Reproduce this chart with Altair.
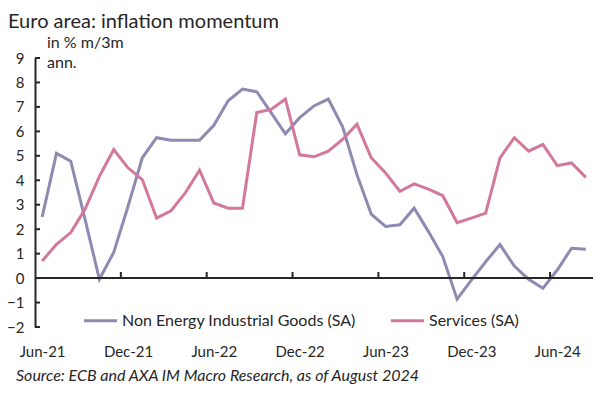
import altair as alt
import pandas as pd

months = ["Jun-21","Jul-21","Aug-21","Sep-21","Oct-21","Nov-21","Dec-21","Jan-22","Feb-22","Mar-22",
          "Apr-22","May-22","Jun-22","Jul-22","Aug-22","Sep-22","Oct-22","Nov-22","Dec-22","Jan-23",
          "Feb-23","Mar-23","Apr-23","May-23","Jun-23","Jul-23","Aug-23","Sep-23","Oct-23","Nov-23",
          "Dec-23","Jan-24","Feb-24","Mar-24","Apr-24","May-24","Jun-24","Jul-24","Aug-24"]

neig = [2.5, 5.1, 4.78, 2.4, -0.05, 1.05, 2.93, 4.92, 5.74, 5.64,
        5.64, 5.64, 6.25, 7.25, 7.73, 7.62, 6.77, 5.9, 6.56, 7.04,
        7.32, 6.19, 4.23, 2.62, 2.11, 2.18, 2.86, 1.9, 0.88, -0.86,
        -0.08, 0.67, 1.37, 0.49, -0.05, -0.42, 0.33, 1.22, 1.18]

services = [0.7, 1.38, 1.86, 2.82, 4.16, 5.26, 4.51, 4.03, 2.45, 2.75,
            3.48, 4.41, 3.07, 2.86, 2.86, 6.77, 6.9, 7.32, 5.04, 4.96,
            5.19, 5.67, 6.29, 4.92, 4.3, 3.55, 3.85, 3.64, 3.37, 2.27,
            2.45, 2.66, 4.92, 5.74, 5.19, 5.47, 4.6, 4.71, 4.12]

series_names = ["Non Energy Industrial Goods (SA)", "Services (SA)"]
series_colors = ["#8E8BB2", "#D4789B"]

y_ticks = [-2, -1, 0, 1, 2, 3, 4, 5, 6, 7, 8, 9]
x_label_idx = [0, 6, 12, 18, 24, 30, 36]
x_tick_pos = [5.5, 11.5, 17.5, 23.5, 29.5, 35.5]

FONT = "Lato"
INK = "#262626"
n = len(months)

rows = []
for name, vals in zip(series_names, [neig, services]):
    for i, (m, v) in enumerate(zip(months, vals)):
        rows.append({"i": i, "month": m, "value": v, "series": name})
df = pd.DataFrame(rows)

label_expr = " : ".join(
    [f"datum.value == {k} ? '{months[k]}'" for k in x_label_idx]) + " : ''"

xscale = alt.Scale(domain=[-0.5, n - 0.5], nice=False, zero=False)
yscale = alt.Scale(domain=[-2, 9], nice=False)

xaxis = alt.Axis(values=x_label_idx, labelExpr=label_expr, title=None,
                 domain=False, ticks=False, tickSize=0, grid=False,
                 labelPadding=17, labelFont=FONT, labelFontSize=15,
                 labelColor=INK, labelOverlap=False, labelFlush=False)
yaxis = alt.Axis(values=y_ticks, title=None, grid=False, ticks=False,
                 tickSize=0, labelPadding=11, labelFont=FONT,
                 labelFontSize=15, labelColor=INK,
                 labelOverlap=False, labelFlush=False,
                 domainColor=INK, domainWidth=2)

lines = alt.Chart(df).mark_line(strokeWidth=3).encode(
    x=alt.X("i:Q", scale=xscale, axis=xaxis),
    y=alt.Y("value:Q", scale=yscale, axis=yaxis),
    color=alt.Color("series:N",
                    scale=alt.Scale(domain=series_names, range=series_colors),
                    legend=alt.Legend(orient="none", legendX=47, legendY=244,
                                      direction="horizontal", title=None,
                                      symbolType="stroke", symbolSize=1100,
                                      symbolStrokeWidth=3, labelFont=FONT,
                                      labelFontSize=16, labelColor=INK,
                                      labelLimit=0,
                                      columnPadding=28, labelOffset=3)),
    detail="series:N",
)

zero_df = pd.DataFrame({"x0": [-0.5], "x1": [n - 0.5], "y": [0]})
zero_line = alt.Chart(zero_df).mark_rule(color=INK, strokeWidth=2).encode(
    x=alt.X("x0:Q", scale=xscale, axis=xaxis), x2="x1:Q",
    y=alt.Y("y:Q", scale=yscale, axis=yaxis))

xt_df = pd.DataFrame({"x": x_tick_pos, "y0": [0] * len(x_tick_pos),
                      "y1": [0.25] * len(x_tick_pos)})
x_ticks = alt.Chart(xt_df).mark_rule(color=INK, strokeWidth=2).encode(
    x=alt.X("x:Q", scale=xscale, axis=xaxis),
    y=alt.Y("y0:Q", scale=yscale, axis=yaxis), y2="y1:Q")

yt_df = pd.DataFrame({"y": y_ticks, "x0": [-0.5] * len(y_ticks),
                      "x1": [-0.15] * len(y_ticks)})
y_tick_marks = alt.Chart(yt_df).mark_rule(color=INK, strokeWidth=2).encode(
    x=alt.X("x0:Q", scale=xscale, axis=xaxis), x2="x1:Q",
    y=alt.Y("y:Q", scale=yscale, axis=yaxis))

one = pd.DataFrame({"a": [0]})
title = alt.Chart(one).mark_text(text="Euro area: inflation momentum", align="left",
                                 baseline="alphabetic", font=FONT, fontSize=20,
                                 color=INK).encode(x=alt.value(-27), y=alt.value(-30))
unit1 = alt.Chart(one).mark_text(text="in % m/3m", align="left", baseline="alphabetic",
                                 font=FONT, fontSize=16, color=INK).encode(
    x=alt.value(12), y=alt.value(-10))
unit2 = alt.Chart(one).mark_text(text="ann.", align="left", baseline="alphabetic",
                                 font=FONT, fontSize=16, color=INK).encode(
    x=alt.value(12), y=alt.value(10))
source = alt.Chart(one).mark_text(text="Source: ECB and AXA IM Macro Research, as of August 2024",
                                  align="left", baseline="alphabetic", font=FONT,
                                  fontSize=16, fontStyle="italic", color=INK).encode(
    x=alt.value(-19), y=alt.value(323))

chart = alt.layer(lines, zero_line, x_ticks, y_tick_marks, title, unit1, unit2, source).properties(
    width=558, height=269,
    autosize=alt.AutoSizeParams(type="none"),
    padding={"left": 27, "top": 50, "right": 15, "bottom": 60},
).configure_view(stroke=None)

chart.save("out.html", embed_options={"renderer": "svg", "actions": False})
